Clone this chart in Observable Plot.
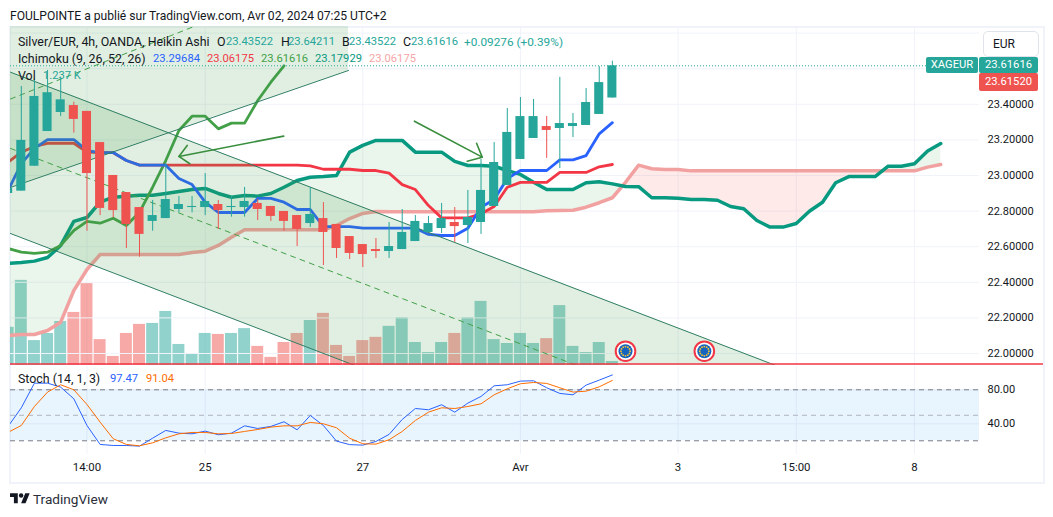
<!DOCTYPE html>
<html lang="fr"><head><meta charset="utf-8">
<script src="https://cdn.jsdelivr.net/npm/d3@7"></script>
<script src="https://cdn.jsdelivr.net/npm/@observablehq/plot@0.6"></script>
<style>
html,body{margin:0;padding:0;background:#fff;}
#root{position:relative;width:1053px;height:517px;overflow:hidden;font-family:Roboto,sans-serif;color:#131722;}
#root svg{position:absolute;left:0;background:transparent;overflow:visible;}
.t{position:absolute;white-space:nowrap;font-size:12.4px;line-height:14px;}
.n{position:absolute;white-space:nowrap;font-size:11.2px;line-height:14px;}
#frame{position:absolute;left:9px;top:26px;width:1032px;height:454px;border:2px solid #f0f3fa;}
.tag{position:absolute;color:#fff;font-size:11.2px;text-align:center;border-radius:2px;}
#eur{position:absolute;left:983px;top:31px;width:54px;height:24px;border:1px solid #e0e3eb;border-radius:5px;background:#fff;font-size:12px;line-height:24px;text-indent:9px;}
</style></head><body><div id="root"><div id="frame"></div></div>
<script>
// ---- chart values ----
const candleStart = -1;
const opens  = [22.899,22.912,23.052,23.247,23.354,23.393,23.360,23.185,23.000,22.904,22.820,22.742,22.758,22.809,22.820,22.820,22.837,22.820,22.820,22.843,22.826,22.798,22.775,22.730,22.758,22.725,22.657,22.612,22.584,22.573,22.584,22.629,22.680,22.702,22.736,22.719,22.736,22.826,22.944,23.090,23.208,23.275,23.264,23.275,23.281,23.343,23.43522];
const highs  = [22.950,23.500,23.543,23.590,23.552,23.412,23.360,23.185,23.000,22.904,22.820,22.860,23.066,22.882,22.882,23.011,22.860,22.882,22.933,22.865,22.826,22.798,22.775,22.933,22.848,22.725,22.657,22.612,22.646,22.736,22.809,22.775,22.770,22.843,22.820,22.916,23.090,23.185,23.376,23.438,23.427,23.331,23.551,23.348,23.489,23.612,23.64211];
const lows   = [22.899,22.912,23.052,23.247,23.331,23.238,22.687,22.775,22.762,22.590,22.541,22.687,22.758,22.790,22.790,22.775,22.697,22.766,22.766,22.747,22.742,22.687,22.601,22.708,22.494,22.534,22.528,22.483,22.534,22.534,22.584,22.629,22.680,22.674,22.624,22.618,22.669,22.826,22.944,23.090,23.208,23.096,23.039,23.213,23.281,23.343,23.43522];
const closes = [22.927,23.197,23.444,23.465,23.425,23.315,23.011,22.815,22.803,22.725,22.669,22.775,22.865,22.837,22.826,22.854,22.803,22.826,22.854,22.809,22.770,22.742,22.697,22.781,22.680,22.590,22.562,22.556,22.573,22.601,22.680,22.742,22.730,22.758,22.713,22.764,22.916,23.073,23.242,23.331,23.331,23.253,23.292,23.292,23.410,23.522,23.61616];
const volumesK = [11.8,26.3,7.7,9.9,13.6,16.4,25.3,8.0,2.8,9.9,12.7,13.0,16.7,6.5,3.7,9.9,9.6,9.9,11.4,5.9,2.5,7.1,9.9,13.9,16.1,6.2,2.8,7.7,8.7,12.1,14.8,7.1,4.0,7.1,9.9,14.8,19.8,8.0,6.8,9.9,6.8,8.3,18.5,5.9,4.0,7.1,1.237];
const tenkan = [22.916,23.067,23.152,23.202,23.202,23.202,23.140,23.129,23.129,23.084,23.058,23.058,23.058,22.983,22.949,22.850,22.792,22.792,22.792,22.871,22.871,22.850,22.809,22.809,22.713,22.713,22.713,22.704,22.704,22.704,22.704,22.704,22.669,22.663,22.663,22.704,22.822,22.865,22.983,23.028,23.028,23.028,23.088,23.088,23.112,23.234,23.29684];
const kijun  = [23.075,23.131,23.163,23.181,23.181,23.181,23.131,23.128,23.128,23.084,23.058,23.058,23.058,23.058,23.058,23.058,23.058,23.058,23.058,23.058,23.058,23.058,23.058,23.054,23.035,23.035,23.035,23.028,23.028,23.013,22.949,22.921,22.831,22.762,22.762,22.762,22.785,22.826,22.934,22.961,22.961,22.961,23.017,23.017,23.017,23.049,23.06175];
const lagging = [22.590,22.569,22.563,22.569,22.607,22.691,22.742,22.732,22.760,22.719,22.794,22.934,23.084,23.253,23.333,23.333,23.262,23.294,23.294,23.421,23.524,23.61616];
const leadA = [22.506,22.511,22.519,22.539,22.607,22.742,22.764,22.850,22.878,22.884,22.889,22.889,22.899,22.910,22.921,22.927,22.899,22.878,22.888,22.884,22.899,22.934,22.972,22.990,22.994,23.000,23.131,23.169,23.197,23.197,23.197,23.131,23.131,23.131,23.079,23.056,23.056,23.052,23.028,23.006,22.962,22.921,22.921,22.921,22.959,22.965,22.953,22.938,22.937,22.875,22.875,22.872,22.865,22.865,22.861,22.826,22.813,22.747,22.710,22.710,22.730,22.799,22.850,22.959,22.994,22.994,22.994,23.052,23.052,23.066,23.137,23.17929];
const leadB = [22.101,22.107,22.107,22.129,22.176,22.354,22.472,22.556,22.556,22.556,22.556,22.556,22.556,22.556,22.567,22.575,22.607,22.653,22.695,22.695,22.695,22.695,22.695,22.695,22.695,22.719,22.758,22.787,22.798,22.796,22.796,22.796,22.796,22.796,22.796,22.796,22.796,22.796,22.796,22.796,22.796,22.802,22.803,22.805,22.822,22.847,22.875,22.962,23.058,23.038,23.034,23.034,23.026,23.026,23.026,23.026,23.026,23.026,23.026,23.026,23.026,23.026,23.026,23.026,23.026,23.026,23.026,23.026,23.026,23.026,23.047,23.06175];
const stochK = [37,58.8,87.8,87.8,83.1,69.4,38,15.7,14.5,14.5,13.7,23.1,32.2,29,28.2,31.4,27.1,29,37.6,34.5,36.9,42.4,32.9,49.8,38,19.6,15.5,14.9,19.2,27.5,45.1,58,56.5,62.4,53.7,64.3,72.2,84.7,85.9,90.2,90.6,82.4,75.7,74.1,85.5,91.4,97.47];
const stochD = [30,38,60.4,77.3,85.9,80,62.7,42,22.4,15.7,14.1,17.6,23.5,28.2,29.8,29.8,28.2,28.6,31,33.3,36.1,37.6,37.6,41.6,40,35.3,23,16.5,16.1,21.2,31,43.9,53.7,58.8,58,60.4,63.5,74.1,81.2,87.1,88.6,87.5,82.4,77.3,78.4,83.5,91.04];
const priceTicks = [22,22.2,22.4,22.6,22.8,23,23.2,23.4];
const priceGrid = [22,22.2,22.4,22.6,22.8,23,23.2,23.4,23.6,23.8];
const stochTicks = [80,40];
const timeTicks = [5,14,26,38,50,59,68];
const timeLabels = ["14:00","25","27","Avr","3","15:00","8"];
const lastPrice = 23.61616;
const chanUpper = [[-0.82,23.580],[59.3,21.880]];
const chanLower = [[-0.82,22.674],[59.3,20.974]];
const chanMid   = [[-0.82,23.152],[59.3,21.452]];
const riseLower = [[-0.82,22.933],[24.91,23.590]];
const riseMid   = [[-0.82,23.430],[16,23.92]];
const riseTop = 23.84;
const arrowOne = [[19.98,23.221],[12.0,23.107]];
const arrowOneHead = [[12.63,23.169],[12.0,23.107],[12.83,23.066]];
const arrowTwo = [[29.93,23.305],[35.09,23.103]];
const arrowTwoHead = [[34.66,23.181],[35.09,23.103],[33.95,23.080]];
const events = [[46,22.013],[52,22.013]];
const starAngles = d3.range(0,360,30);

const GREEN="#26a69a", RED="#ef5350";
const xDomain=[-0.822,72.95];
const root=document.getElementById("root");
const bars=opens.map((o,k)=>({i:k+candleStart,o,h:highs[k],l:lows[k],c:closes[k],v:volumesK[k],col:closes[k]>=o?GREEN:RED}));
const series=(a,s=-1)=>a.map((v,k)=>({i:k+s,v}));
const kumo=leadA.map((a,k)=>({i:k-1,a,b:leadB[k],m:Math.min(a,leadB[k])}));
const pairs=a=>a.map(([i,v])=>({i,v}));
const place=(svg,top)=>{svg.style.top=top+"px";root.appendChild(svg);};
const base={width:1053,marginLeft:10,marginRight:74,marginTop:0,x:{domain:xDomain,axis:null},
  style:{background:"transparent",fontFamily:"Roboto,sans-serif"}};

// volume pane, under the price pane
place(Plot.plot({...base,height:339,marginBottom:0,
  y:{domain:[0,104.75],axis:null},
  marks:[
    Plot.ruleX(timeTicks,{x:d=>d,stroke:"#f0f3fa"}),
    Plot.rect(bars,{x1:d=>d.i-.455,x2:d=>d.i+.455,y1:0,y2:"v",fill:"col",fillOpacity:.5,clip:true})
  ]}),26);

// price pane
const xy={x:"i",y:"v"};
const main=Plot.plot({...base,height:339,marginBottom:0,
  y:{domain:[21.9326,23.837],axis:null},
  marks:[
    Plot.ruleY(priceGrid,{stroke:"#f0f3fa"}),
    Plot.areaY(kumo,{x:"i",y1:"a",y2:"m",fill:"#43a047",fillOpacity:.11,clip:true}),
    Plot.areaY(kumo,{x:"i",y1:"b",y2:"m",fill:"#f44336",fillOpacity:.11,clip:true}),
    Plot.line(series(leadB),{...xy,stroke:"#f2a1a1",strokeWidth:3.5,clip:true}),
    Plot.line(series(leadA),{...xy,stroke:"#089981",strokeWidth:3.5,clip:true}),
    Plot.line(series(lagging),{...xy,stroke:"#43a047",strokeWidth:2.8,clip:true}),
    Plot.line(series(kijun),{...xy,stroke:"#f23645",strokeWidth:2.8,clip:true}),
    Plot.line(series(tenkan),{...xy,stroke:"#2962ff",strokeWidth:2.8,clip:true}),
    Plot.areaY(chanUpper.map((p,k)=>({i:p[0],u:p[1],w:chanLower[k][1]})),{x:"i",y1:"u",y2:"w",fill:"#43a047",fillOpacity:.165,clip:true}),
    Plot.areaY(riseLower.map(p=>({i:p[0],u:riseTop,w:p[1]})),{x:"i",y1:"u",y2:"w",fill:"#43a047",fillOpacity:.165,clip:true}),
    Plot.line(pairs(chanUpper),{...xy,stroke:"#2e7d62",strokeWidth:1,clip:true}),
    Plot.line(pairs(chanLower),{...xy,stroke:"#2e7d62",strokeWidth:1,clip:true}),
    Plot.line(pairs(chanMid),{...xy,stroke:"#43a047",strokeWidth:1,strokeDasharray:"5,5",clip:true}),
    Plot.line(pairs(riseLower),{...xy,stroke:"#2e7d62",strokeWidth:1,clip:true}),
    Plot.line(pairs(riseMid),{...xy,stroke:"#43a047",strokeWidth:1,strokeDasharray:"5,5",clip:true}),
    Plot.ruleY([lastPrice],{stroke:"#26a69a",strokeWidth:1,strokeDasharray:"1,2"}),
    Plot.ruleX(bars,{x:"i",y1:"l",y2:"h",stroke:"col",strokeWidth:1,clip:true}),
    Plot.rect(bars,{x1:d=>d.i-.345,x2:d=>d.i+.345,y1:"o",y2:"c",fill:"col",clip:true}),
    Plot.line(pairs(arrowOne),{...xy,stroke:"#388e3c",strokeWidth:1.6}),
    Plot.line(pairs(arrowOneHead),{...xy,stroke:"#388e3c",strokeWidth:1.6}),
    Plot.line(pairs(arrowTwo),{...xy,stroke:"#388e3c",strokeWidth:1.6}),
    Plot.line(pairs(arrowTwoHead),{...xy,stroke:"#388e3c",strokeWidth:1.6}),
    Plot.dot(events,{x:"0",y:"1",r:9.8,fill:"#fff",stroke:"#f23645",strokeWidth:2}),
    Plot.dot(events,{x:"0",y:"1",r:7,fill:"#1565c0"}),
    ...starAngles.map(a=>Plot.dot(events,{x:"0",y:"1",r:.9,fill:"#fbc02d",dx:4.6*Math.cos(a*Math.PI/180),dy:4.6*Math.sin(a*Math.PI/180)})),
    Plot.ruleY([21.9405],{x1:xDomain[0],x2:77.82,stroke:"#f23645",strokeWidth:1.5}),
    Plot.axisY(priceTicks,{anchor:"right",tickSize:0,tickPadding:8,tickFormat:d3.format(".5f"),label:null,fontSize:11,fill:"#131722"})
  ]});
place(main,26);

// stochastic pane
place(Plot.plot({...base,height:116,marginBottom:28,
  y:{domain:[3.88,107.4],axis:null},
  marks:[
    Plot.ruleX(timeTicks,{x:d=>d,stroke:"#f0f3fa"}),
    Plot.ruleY(stochTicks,{stroke:"#f0f3fa"}),
    Plot.rect([[20,80]],{x1:xDomain[0],x2:xDomain[1],y1:"0",y2:"1",fill:"#2196f3",fillOpacity:.1}),
    Plot.ruleY([80,20],{stroke:"#787b86",strokeWidth:1,strokeDasharray:"5,4"}),
    Plot.ruleY([50],{stroke:"#b2b5be",strokeWidth:1,strokeDasharray:"5,4"}),
    Plot.line(series(stochK),{...xy,stroke:"#2962ff",strokeWidth:1,clip:true}),
    Plot.line(series(stochD),{...xy,stroke:"#ff6d00",strokeWidth:1,clip:true}),
    Plot.axisY(stochTicks,{anchor:"right",tickSize:0,tickPadding:8,tickFormat:d3.format(".2f"),label:null,fontSize:11,fill:"#131722"}),
    Plot.axisX(timeTicks,{anchor:"bottom",tickSize:0,tickPadding:8,tickFormat:d=>timeLabels[timeTicks.indexOf(d)],label:null,fontSize:11.4,fill:"#131722"})
  ]}),366);

// texts over the panes
const put=(s,x,y,col,cls)=>{const e=document.createElement("div");e.className=cls;e.textContent=s;e.style.left=x+"px";e.style.top=(y-7)+"px";if(col)e.style.color=col;root.appendChild(e);return e;};
const dark="#131722",tl="#26a69a";
const words=[["FOULPOINTE a publié sur TradingView.com, Avr 02, 2024 07:25 UTC+2",10,16,dark],
["Silver/EUR, 4h, OANDA, Heikin Ashi",18,42,dark],["O",217,42,dark],["H",281,42,dark],["B",342,42,dark],["C",403,42,dark],
["Ichimoku (9, 26, 52, 26)",18,59,dark],["Vol",18,76,dark],["Stoch (14, 1, 3)",18,379,dark],["TradingView",33,499,"#2a2e39"]];
const numbers=[["23.43522",226,42,tl],["23.64211",288,42,tl],["23.43522",349,42,tl],["23.61616",411,42,tl],["+0.09276 (+0.39%)",464,42,tl],
["23.29684",153,59,"#2962ff"],["23.06175",207,59,"#f23645"],["23.61616",261,59,"#43a047"],["23.17929",315,59,"#089981"],["23.06175",369,59,"#f5a6a6"],
["1.237 K",43,76,tl],["97.47",110,379,"#2962ff"],["91.04",146,379,"#ff6d00"]];
words.forEach(r=>{const e=put(...r,"t");if(r[0].startsWith("FOUL"))e.style.fontSize="12.1px";if(r[0]==="TradingView")e.style.fontSize="13.6px";});
numbers.forEach(r=>{const e=put(...r,"n");if(r[0].startsWith("+"))e.style.fontSize="11.8px";});
const mk=(s,l,t,w,h,bg)=>{const e=document.createElement("div");e.className="tag";e.textContent=s;Object.assign(e.style,{left:l+"px",top:t+"px",width:w+"px",height:h+"px",lineHeight:h+"px",background:bg});root.appendChild(e);};
mk("XAGEUR",926,57,52,16,GREEN);
mk("23.61616",979,57,59,16,GREEN);
mk("23.61520",979,73,59,18,RED);
const eur=document.createElement("div");eur.id="eur";eur.textContent="EUR";root.appendChild(eur);
// logo
const ns="http://www.w3.org/2000/svg";
const lg=document.createElementNS(ns,"svg");lg.setAttribute("viewBox","0 0 36 28");lg.setAttribute("width","20");lg.setAttribute("height","15.5");lg.style.left="10px";lg.style.top="491px";
lg.innerHTML='<path fill="#131722" d="M14 22H7V11H0V4h14v18zM28 22h-8l7.5-18h8L28 22z"/><circle fill="#131722" cx="20" cy="8" r="4"/>';
root.appendChild(lg);
</script></body></html>
